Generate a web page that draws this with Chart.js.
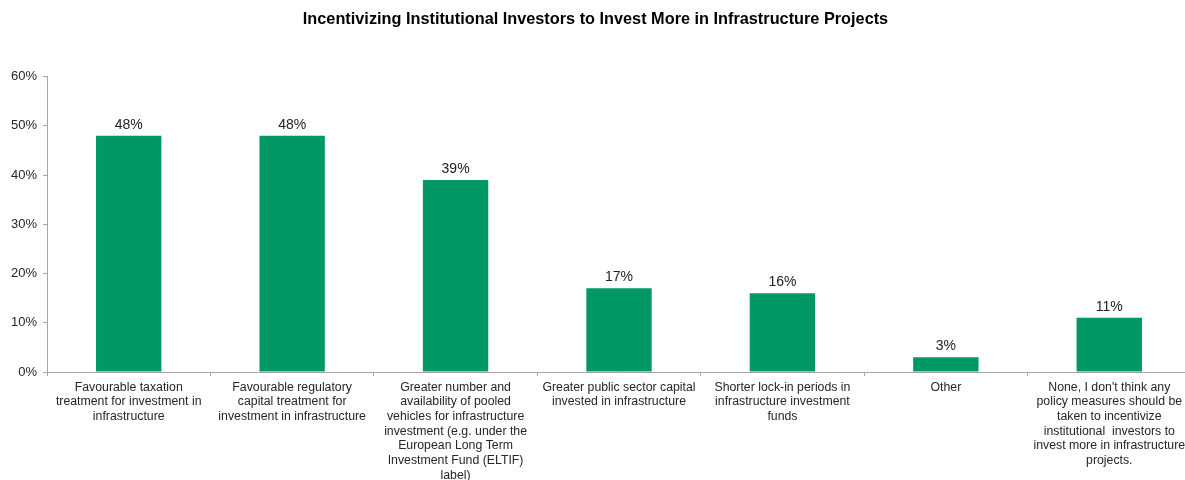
<!DOCTYPE html>
<html>
<head>
<meta charset="utf-8">
<script src="https://cdn.jsdelivr.net/npm/chart.js@4.4.1/dist/chart.umd.min.js"></script>
<style>
  html, body { margin: 0; padding: 0; background: #fff; overflow: hidden; }
  #wrap { position: relative; width: 1200px; height: 480px; }
</style>
</head>
<body>
<div id="wrap"><canvas id="chart"></canvas></div>
<script>
const chartTitle = 'Incentivizing Institutional Investors to Invest More in Infrastructure Projects';

const categories = [
    ['Favourable taxation', 'treatment for investment in', 'infrastructure'],
    ['Favourable regulatory', 'capital treatment for', 'investment in infrastructure'],
    ['Greater number and', 'availability of pooled', 'vehicles for infrastructure', 'investment (e.g. under the', 'European Long Term', 'Investment Fund (ELTIF)', 'label)'],
    ['Greater public sector capital', 'invested in infrastructure'],
    ['Shorter lock-in periods in', 'infrastructure investment', 'funds'],
    ['Other'],
    ['None, I don\'t think any', 'policy measures should be', 'taken to incentivize', 'institutional  investors to', 'invest more in infrastructure', 'projects.']
];

const shares = [48, 48, 39, 17, 16, 3, 11];

const yTicks = [0, 10, 20, 30, 40, 50, 60];

const FONT = '"Liberation Sans", Arial, sans-serif';
const BAR_GREEN = '#009966';
const AXIS_GREY = '#a6a6a6';

// percentage labels sitting on top of each bar
const valueLabels = {
    id: 'valueLabels',
    afterDatasetsDraw(chart) {
        const ctx = chart.ctx;
        const meta = chart.getDatasetMeta(0);
        ctx.save();
        ctx.font = '14px ' + FONT;
        ctx.fillStyle = '#222';
        ctx.textAlign = 'center';
        ctx.textBaseline = 'alphabetic';
        meta.data.forEach((bar, i) => {
            ctx.fillText(shares[i] + '%', bar.x, bar.y - 7);
        });
        ctx.restore();
    }
};

new Chart(document.getElementById('chart'), {
    type: 'bar',
    data: {
        labels: categories,
        datasets: [{
            data: shares,
            backgroundColor: BAR_GREEN,
            barPercentage: 0.4,
            categoryPercentage: 1.0
        }]
    },
    options: {
        responsive: true,
        maintainAspectRatio: false,
        animation: false,
        layout: { padding: { left: 0, right: 9, top: 0, bottom: 0 } },
        plugins: {
            legend: { display: false },
            tooltip: { enabled: false },
            title: {
                display: true,
                text: chartTitle,
                color: '#000',
                font: { family: FONT, size: 16.3, weight: 'bold' },
                padding: { top: 10, bottom: 47 }
            }
        },
        scales: {
            x: {
                // long labels run past the bottom edge, keep the axis where it is
                afterFit(scale) { scale.height = 108; },
                grid: { drawOnChartArea: false, drawTicks: true, tickLength: 4, color: AXIS_GREY, offset: true },
                border: { color: AXIS_GREY },
                ticks: {
                    autoSkip: false,
                    maxRotation: 0,
                    minRotation: 0,
                    padding: 4,
                    color: '#262626',
                    font: { family: FONT, size: 12.3, lineHeight: 1.19 }
                }
            },
            y: {
                min: 0,
                max: 60,
                afterFit(scale) { scale.width = 47; },
                afterBuildTicks(scale) { scale.ticks = yTicks.map(v => ({ value: v })); },
                grid: { drawOnChartArea: false, drawTicks: true, tickLength: 4, color: AXIS_GREY },
                border: { color: AXIS_GREY },
                ticks: {
                    padding: 6,
                    color: '#262626',
                    font: { family: FONT, size: 13 },
                    callback: v => v + '%'
                }
            }
        }
    },
    plugins: [valueLabels]
});
</script>
</body>
</html>
